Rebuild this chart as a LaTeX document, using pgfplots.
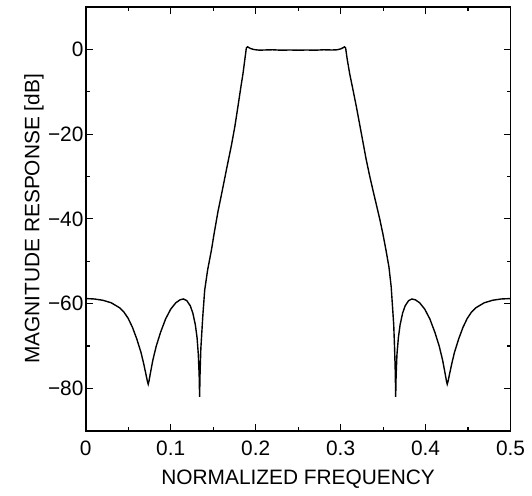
\documentclass[border=0pt]{standalone}
\usepackage{fontspec}
\setmainfont{Liberation Sans}
\usepackage{pgfplots}
\pgfplotsset{compat=1.18}

\begin{document}
\fontsize{10.5}{12.5}\selectfont
\begin{tikzpicture}
  \begin{axis}[
      scale only axis,
      width=213bp, height=212.5bp,
      xmin=0, xmax=0.5,
      ymin=-90, ymax=10,
      xtick={0,0.1,0.2,0.3,0.4,0.5},
      xticklabels={0,0.1,0.2,0.3,0.4,0.5},
      ytick={-80,-60,-40,-20,0},
      yticklabels={−80,−60,−40,−20,0},
      minor xtick={0.05,0.15,0.25,0.35,0.45},
      minor ytick={-90,-70,-50,-30,-10,10},
      tick align=inside,
      major tick length=3.5pt,
      minor tick length=2pt,
      every tick/.style={black, line width=0.6pt},
      axis line style={line width=0.9pt},
      xlabel={NORMALIZED FREQUENCY},
      ylabel={MAGNITUDE RESPONSE [dB]},
      xlabel style={yshift=0pt},
      ylabel style={yshift=-5bp},
      xticklabel style={yshift=-1.5pt},
      yticklabel style={xshift=2.5bp},
      tick label style={font=\fontsize{10.5}{12.5}\selectfont},
      label style={font=\fontsize{10.5}{12.5}\selectfont},
    ]
    \addplot[black, line width=0.7pt] coordinates {
      (0,-58.8) (0.01,-58.9) (0.02,-59.2) (0.03,-59.8) (0.04,-61.0)
      (0.045,-62.0) (0.05,-63.5) (0.055,-65.6) (0.06,-68.3) (0.065,-71.5)
      (0.068,-74.0) (0.071,-76.8) (0.0725,-78.3) (0.0735,-79.0) (0.0745,-78.2)
      (0.076,-76.5) (0.079,-73.3) (0.083,-70.0) (0.088,-66.8) (0.094,-63.6)
      (0.100,-61.3) (0.106,-59.8) (0.111,-59.1) (0.115,-58.9) (0.119,-59.3)
      (0.123,-60.5) (0.126,-62.2) (0.129,-65.0) (0.131,-68.0) (0.1325,-72.0)
      (0.1335,-77.0) (0.134,-82.0) (0.1346,-76.0) (0.1355,-70.5) (0.137,-65.5)
      (0.138,-62.3) (0.140,-56.8) (0.1435,-52.0) (0.1478,-47.5) (0.1515,-43.0)
      (0.1557,-38.2) (0.1600,-34.0) (0.1635,-30.5) (0.1675,-26.5) (0.1714,-22.7)
      (0.1755,-18.2) (0.1792,-13.4) (0.1825,-9.0) (0.1851,-5.7) (0.1875,-2.0)
      (0.189,0.3) (0.1905,0.6) (0.192,0.4) (0.194,0.2) (0.197,0.0)
      (0.200,-0.1) (0.205,-0.2) (0.21,-0.15) (0.22,-0.1) (0.23,-0.2)
      (0.24,-0.15) (0.25,-0.2) (0.26,-0.15) (0.27,-0.2) (0.28,-0.1)
      (0.29,-0.15) (0.296,-0.1) (0.300,0.1) (0.303,0.4) (0.3045,0.6)
      (0.3059,0.3) (0.3075,-2.0) (0.3106,-5.7) (0.3145,-9.5) (0.3184,-13.4)
      (0.3225,-17.8) (0.3263,-21.9) (0.3300,-25.9) (0.3341,-29.8) (0.338,-33.2)
      (0.342,-36.6) (0.346,-40.0) (0.3498,-43.6) (0.3535,-47.5) (0.3569,-51.4)
      (0.3595,-56.0) (0.3616,-62.3)
      (0.3625,-65.0) (0.3635,-70.5) (0.3643,-76.0) (0.3648,-82.0) (0.3653,-77.0)
      (0.3663,-72.0) (0.368,-68.0) (0.370,-65.0) (0.373,-62.2) (0.376,-60.5)
      (0.380,-59.3) (0.384,-58.9) (0.388,-59.1) (0.393,-59.8) (0.399,-61.3)
      (0.405,-63.6) (0.411,-66.8) (0.416,-70.0) (0.420,-73.3) (0.423,-76.5)
      (0.4245,-78.2) (0.4255,-79.0) (0.4265,-78.3) (0.428,-76.8) (0.431,-74.0)
      (0.434,-71.5) (0.439,-68.3) (0.444,-65.6) (0.449,-63.5) (0.454,-62.0)
      (0.459,-61.0) (0.469,-59.8) (0.479,-59.2) (0.489,-58.9) (0.500,-58.8)
    };
  \end{axis}
  \path (current axis.north) ++(0,3.5bp);
  \path (current axis.south west) ++(-43bp,0);
\end{tikzpicture}
\end{document}
